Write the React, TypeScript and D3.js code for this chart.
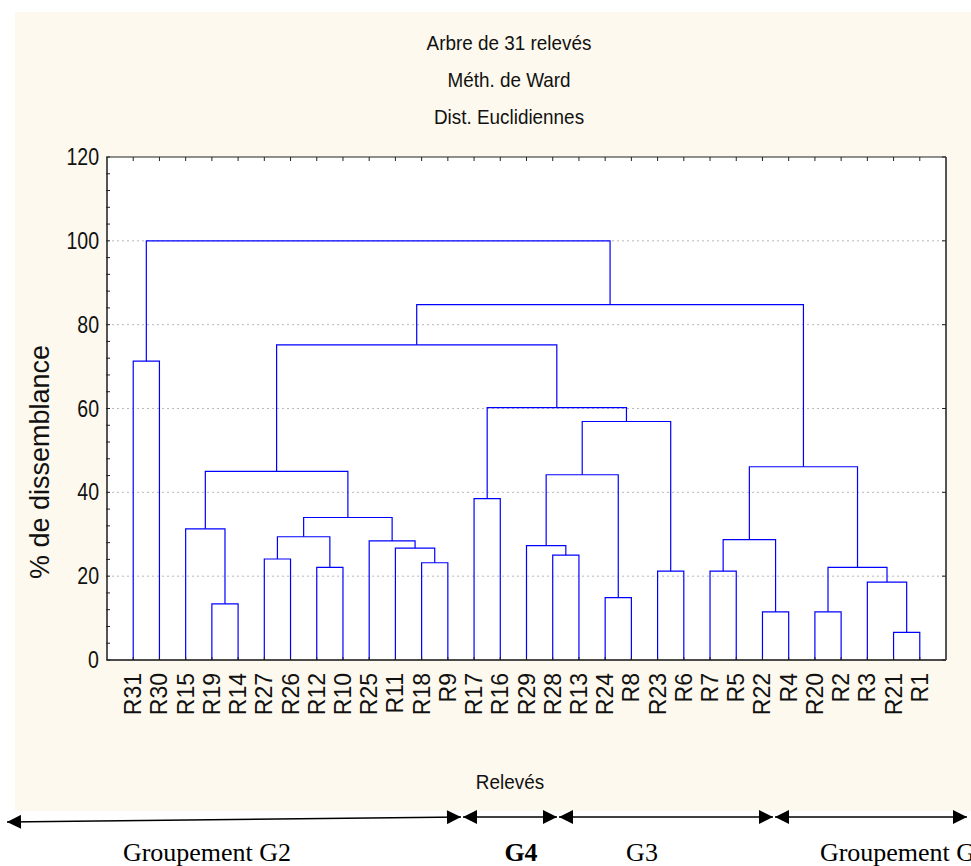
import React, { useEffect, useRef } from 'react';
import * as d3 from 'd3';

// leaf order along the x axis
const leaves = [
  'R31', 'R30', 'R15', 'R19', 'R14', 'R27', 'R26', 'R12', 'R10', 'R25', 'R11',
  'R18', 'R9', 'R17', 'R16', 'R29', 'R28', 'R13', 'R24', 'R8', 'R23', 'R6',
  'R7', 'R5', 'R22', 'R4', 'R20', 'R2', 'R3', 'R21', 'R1'
];

// merges: [left, right, height] ; "#n" refers to the n-th merge (1-based)
const merges: [string, string, number][] = [
  ['R19', 'R14', 13.4],
  ['R15', '#1', 31.3],
  ['R27', 'R26', 24.1],
  ['R12', 'R10', 22.1],
  ['#3', '#4', 29.4],
  ['R18', 'R9', 23.2],
  ['R11', '#6', 26.7],
  ['R25', '#7', 28.4],
  ['#5', '#8', 34.0],
  ['#2', '#9', 45.0],
  ['R17', 'R16', 38.5],
  ['R28', 'R13', 25.0],
  ['R29', '#12', 27.3],
  ['R24', 'R8', 14.9],
  ['#13', '#14', 44.2],
  ['R23', 'R6', 21.2],
  ['#15', '#16', 56.9],
  ['#11', '#17', 60.2],
  ['#10', '#18', 75.2],
  ['R7', 'R5', 21.2],
  ['R22', 'R4', 11.5],
  ['#20', '#21', 28.7],
  ['R20', 'R2', 11.5],
  ['R21', 'R1', 6.6],
  ['R3', '#24', 18.6],
  ['#23', '#25', 22.1],
  ['#22', '#26', 46.1],
  ['#19', '#27', 84.8],
  ['R31', 'R30', 71.3],
  ['#29', '#28', 100]
];

const yTicks = [0, 20, 40, 60, 80, 100, 120];
const gridValues = [20, 40, 60, 80, 100];
const titleLines = ['Arbre de 31 relevés', 'Méth. de Ward', 'Dist. Euclidiennes'];
const yLabel = '% de dissemblance';
const xLabel = 'Relevés';
const groupLabels = ['Groupement G2', 'G4', 'G3', 'Groupement G1'];

export default function App() {
  const ref = useRef<SVGSVGElement>(null);

  useEffect(() => {
    const W = 971,
      H = 866;
    const m = { left: 107, right: 946, top: 157, bottom: 660 };
    const sans = '"Liberation Sans", Arial, sans-serif';
    const serif = '"Liberation Serif", "Times New Roman", serif';
    const blue = '#0000ff';

    const svg = d3.select(ref.current).attr('width', W).attr('height', H);
    svg.selectAll('*').remove();

    // backgrounds
    svg.append('rect').attr('width', W).attr('height', H).attr('fill', '#ffffff');
    svg
      .append('rect')
      .attr('x', 15)
      .attr('y', 12)
      .attr('width', W - 15)
      .attr('height', 799)
      .attr('fill', '#fdf9ee');
    svg
      .append('rect')
      .attr('x', m.left)
      .attr('y', m.top)
      .attr('width', m.right - m.left)
      .attr('height', m.bottom - m.top)
      .attr('fill', '#ffffff');

    const x = d3.scalePoint<string>().domain(leaves).range([m.left, m.right]).padding(1);
    const y = d3.scaleLinear().domain([0, 120]).range([m.bottom, m.top]);

    // titles
    titleLines.forEach((t, i) => {
      svg
        .append('g')
        .attr('transform', `translate(509,${50 + i * 37}) scale(0.9,1)`)
        .append('text')
        .attr('text-anchor', 'middle')
        .attr('font-family', sans)
        .attr('font-size', 21)
        .attr('fill', '#111')
        .text(t);
    });

    // grid
    svg
      .append('g')
      .selectAll('line')
      .data(gridValues)
      .enter()
      .append('line')
      .attr('x1', m.left)
      .attr('x2', m.right)
      .attr('y1', d => y(d))
      .attr('y2', d => y(d))
      .attr('stroke', '#b8b8b8')
      .attr('stroke-width', 1)
      .attr('stroke-dasharray', '2,3');

    // dendrogram
    const pos: Record<string, { x: number; h: number }> = {};
    leaves.forEach(l => (pos[l] = { x: x(l) as number, h: 0 }));
    const links = svg.append('g').attr('fill', 'none').attr('stroke', blue).attr('stroke-width', 1.2);
    merges.forEach(([a, b, h], i) => {
      const pa = pos[a],
        pb = pos[b];
      const path = d3.path();
      path.moveTo(pa.x, y(pa.h));
      path.lineTo(pa.x, y(h));
      path.lineTo(pb.x, y(h));
      path.lineTo(pb.x, y(pb.h));
      links.append('path').attr('d', path.toString());
      pos['#' + (i + 1)] = { x: (pa.x + pb.x) / 2, h };
    });

    // frame
    const frame = svg.append('g');
    frame
      .append('line')
      .attr('x1', m.left).attr('x2', m.right).attr('y1', m.top).attr('y2', m.top)
      .attr('stroke', '#222').attr('stroke-width', 1.2);
    frame
      .append('line')
      .attr('x1', m.left).attr('x2', m.right).attr('y1', m.bottom).attr('y2', m.bottom)
      .attr('stroke', '#111').attr('stroke-width', 1.5);
    frame
      .append('line')
      .attr('x1', m.left).attr('x2', m.left).attr('y1', m.top).attr('y2', m.bottom)
      .attr('stroke', '#555').attr('stroke-width', 2);
    frame
      .append('line')
      .attr('x1', m.right).attr('x2', m.right).attr('y1', m.top).attr('y2', m.bottom)
      .attr('stroke', '#555').attr('stroke-width', 2);

    // ticks
    const minor = d3.range(0, 121, 4);
    frame
      .selectAll('.minor')
      .data(minor)
      .enter()
      .append('line')
      .attr('x1', m.left - 1)
      .attr('x2', m.left + 3)
      .attr('y1', d => y(d))
      .attr('y2', d => y(d))
      .attr('stroke', '#222');
    frame
      .selectAll('.rtick')
      .data(yTicks)
      .enter()
      .append('line')
      .attr('x1', m.right - 4)
      .attr('x2', m.right)
      .attr('y1', d => y(d))
      .attr('y2', d => y(d))
      .attr('stroke', '#222');
    frame
      .selectAll('.ttick')
      .data(leaves)
      .enter()
      .append('line')
      .attr('x1', d => x(d) as number)
      .attr('x2', d => x(d) as number)
      .attr('y1', m.top)
      .attr('y2', m.top + 4)
      .attr('stroke', '#222');
    frame
      .selectAll('.btick')
      .data(leaves)
      .enter()
      .append('line')
      .attr('x1', d => x(d) as number)
      .attr('x2', d => x(d) as number)
      .attr('y1', m.bottom)
      .attr('y2', m.bottom - 3)
      .attr('stroke', '#222');

    // y tick labels
    yTicks.forEach(t => {
      svg
        .append('g')
        .attr('transform', `translate(${m.left - 8},${y(t) + 8}) scale(0.85,1)`)
        .append('text')
        .attr('text-anchor', 'end')
        .attr('font-family', sans)
        .attr('font-size', 23)
        .attr('fill', '#111')
        .text(t);
    });

    // leaf labels
    svg
      .append('g')
      .selectAll('text')
      .data(leaves)
      .enter()
      .append('text')
      .attr('transform', d => `translate(${(x(d) as number) + 8},${m.bottom + 13}) rotate(-90)`)
      .attr('text-anchor', 'end')
      .attr('font-family', sans)
      .attr('font-size', 23)
      .attr('fill', '#111')
      .text(d => d);

    // axis titles
    svg
      .append('text')
      .attr('transform', `translate(49,${462}) rotate(-90)`)
      .attr('text-anchor', 'middle')
      .attr('font-family', sans)
      .attr('font-size', 27)
      .attr('fill', '#111')
      .text(yLabel);
    svg
      .append('g')
      .attr('transform', 'translate(510,789) scale(0.9,1)')
      .append('text')
      .attr('text-anchor', 'middle')
      .attr('font-family', sans)
      .attr('font-size', 21)
      .attr('fill', '#111')
      .text(xLabel);

    // group arrows
    const defs = svg.append('defs');
    defs
      .append('marker')
      .attr('id', 'ah')
      .attr('viewBox', '0 0 10 10')
      .attr('refX', 10)
      .attr('refY', 5)
      .attr('markerUnits', 'userSpaceOnUse')
      .attr('markerWidth', 16)
      .attr('markerHeight', 14)
      .attr('orient', 'auto-start-reverse')
      .append('path')
      .attr('d', 'M0,0L10,5L0,10Z')
      .attr('fill', '#000');

    const spans = [
      { x1: 7, y1: 822, x2: 461, y2: 817, cx: 207 },
      { x1: 463, y1: 817, x2: 557, y2: 817, cx: 521 },
      { x1: 559, y1: 817, x2: 773, y2: 817, cx: 642 },
      { x1: 775, y1: 817, x2: 967, y2: 817, cx: 904 }
    ];
    spans.forEach((s, i) => {
      svg
        .append('line')
        .attr('x1', s.x1)
        .attr('y1', s.y1)
        .attr('x2', s.x2)
        .attr('y2', s.y2)
        .attr('stroke', '#000')
        .attr('stroke-width', 1.6)
        .attr('marker-start', 'url(#ah)')
        .attr('marker-end', 'url(#ah)');
      svg
        .append('text')
        .attr('x', s.cx)
        .attr('y', 861)
        .attr('text-anchor', 'middle')
        .attr('font-family', serif)
        .attr('font-size', 26)
        .attr('font-weight', groupLabels[i] === 'G4' ? 'bold' : 'normal')
        .attr('fill', '#000')
        .text(groupLabels[i]);
    });
  }, []);

  return (
    <svg
      ref={ref}
      style={{ position: 'absolute', left: 0, top: 0, display: 'block' }}
    />
  );
}
